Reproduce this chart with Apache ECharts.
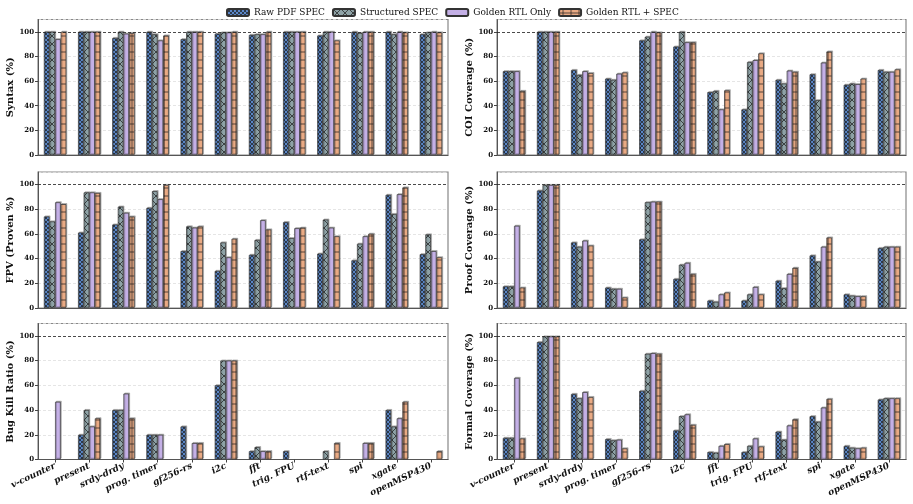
<!DOCTYPE html>
<html>
<head>
<meta charset="utf-8">
<script src="https://cdn.jsdelivr.net/npm/echarts@6/dist/echarts.min.js"></script>
<style>
  html, body { margin: 0; padding: 0; background: #fff; }
  #chart { width: 913px; height: 504px; }
</style>
</head>
<body>
<div id="chart"></div>
<script>
// benchmark designs on the x axis
const categories = ['v-counter', 'present', 'srdy-drdy', 'prog. timer', 'gf256-rs', 'i2c',
  'fft', 'trig. FPU', 'rtf-text', 'spi', 'xgate', 'openMSP430']
const seriesNames = ['Raw PDF SPEC', 'Structured SPEC', 'Golden RTL Only', 'Golden RTL + SPEC']

// each metric: [raw pdf, structured, golden rtl, golden rtl + spec]
const syntax = [
  [100, 100, 95, 100, 94, 98.5, 97.5, 100, 97, 100, 100, 98],
  [100, 100, 100, 98, 100, 99.5, 98, 100, 100, 99, 98, 99.5],
  [94, 100, 98.5, 93, 100, 99.5, 98, 100, 100, 100, 100, 100],
  [100, 100, 99, 97, 100, 100, 100, 100, 93, 100, 99.5, 99.5]
]
const coi = [
  [68, 100, 69, 62, 93, 88, 51, 37, 61, 65.5, 57, 69],
  [68, 100, 65, 61, 96, 100, 52, 75.5, 58, 44.5, 58, 67.5],
  [68, 100, 68, 66, 100, 91.5, 37, 77, 68.5, 75, 57.5, 67.5],
  [52, 100, 66.5, 67, 99.5, 91.5, 52.5, 82.5, 67.5, 84, 62, 69.5]
]
const fpv = [
  [74, 61, 67.5, 81, 46, 30, 43, 69.5, 44, 38.5, 91.5, 43.5],
  [70, 93.5, 82, 94.5, 66, 53, 55, 56.5, 71.5, 52, 76, 59.5],
  [85.5, 93.5, 77, 88, 65, 41, 71, 64.5, 65, 58, 92, 46],
  [84, 93, 74, 99.5, 66, 56, 63.5, 65, 58, 60, 97.5, 41]
]
const proof = [
  [17.5, 95, 53, 16.5, 55.5, 23.5, 6, 6, 22, 42.5, 11, 48.5],
  [17.5, 99.5, 49.5, 15.5, 85.5, 35, 5, 11, 16, 37.5, 10, 49.5],
  [66.5, 99.5, 54.5, 15.5, 86, 36.5, 11, 17, 27.5, 49.5, 9.5, 49.5],
  [16.5, 99.5, 50.5, 8.5, 86, 27.5, 12.5, 11, 32.5, 57, 9.5, 49.5]
]
const bugKill = [
  [0, 20, 40, 20, 26.7, 60, 6.7, 6.7, 0, 0, 40, 0],
  [0, 40, 40, 20, 0, 80, 10, 0, 6.7, 0, 26.7, 0],
  [46.7, 26.7, 53.3, 20, 13.3, 80, 6.7, 0, 0, 13.3, 33.3, 0],
  [0, 33.3, 33.3, 0, 13.3, 80, 6.7, 0, 13.3, 13.3, 46.7, 6.7]
]
const formal = [
  [17.5, 95, 53, 16.5, 55.5, 23.5, 6, 6, 22.5, 35, 11, 48.5],
  [17.5, 99.5, 49.5, 15.5, 85.5, 35, 5.5, 11, 16, 30.5, 9.5, 49.5],
  [66, 99.5, 54.5, 16, 86, 36.5, 11, 17, 27.5, 42, 9, 49.5],
  [17, 99.5, 50.5, 9, 85.5, 28, 12.5, 10.5, 32.5, 49, 9.5, 49.5]
]

const panels = [
  { name: 'Syntax (%)', data: syntax },
  { name: 'COI Coverage (%)', data: coi },
  { name: 'FPV (Proven %)', data: fpv },
  { name: 'Proof Coverage (%)', data: proof },
  { name: 'Bug Kill Ratio (%)', data: bugKill },
  { name: 'Formal Coverage (%)', data: formal }
]

// hatch fills like matplotlib ('xx', 'x', none, '+')
function hatch(bg, kind, size) {
  const c = document.createElement('canvas')
  c.width = size
  c.height = size
  const g = c.getContext('2d')
  g.fillStyle = bg
  g.fillRect(0, 0, size, size)
  g.strokeStyle = '#1a1a1a'
  g.lineWidth = 0.7
  g.beginPath()
  if (kind === 'x') {
    for (let k = -1; k <= 1; k++) {
      g.moveTo(k * size, 0); g.lineTo(k * size + size, size)
      g.moveTo(k * size, size); g.lineTo(k * size + size, 0)
    }
  } else if (kind === '+') {
    g.moveTo(0, size / 2); g.lineTo(size, size / 2)
    g.moveTo(size / 2, 0); g.lineTo(size / 2, size)
  }
  g.stroke()
  return { image: c, repeat: 'repeat' }
}

const fills = [
  hatch('#5b87c8', 'x', 4),
  hatch('#8ea2a6', 'x', 8),
  '#c4b0e6',
  hatch('#e9aa84', '+', 8)
]

const serif = 'DejaVu Serif'
const cols = [{ left: 38, right: 465 }, { left: 497, right: 7 }]
const rows = [{ top: 19.5, height: 135.5 }, { top: 172, height: 136 }, { top: 323.5, height: 136 }]

const grid = []
const xAxis = []
const yAxis = []
const series = []

panels.forEach((p, i) => {
  const col = cols[i % 2]
  const row = rows[Math.floor(i / 2)]
  const bottomRow = i >= 4
  grid.push({
    left: col.left, right: col.right, top: row.top, height: row.height,
    show: true, borderColor: '#888', borderWidth: 1.2, backgroundColor: 'transparent'
  })
  xAxis.push({
    type: 'category', gridIndex: i, data: categories,
    axisLine: { lineStyle: { color: '#555', width: 1 } },
    axisTick: { show: bottomRow, alignWithLabel: true, length: 3, lineStyle: { color: '#444' } },
    axisLabel: {
      show: bottomRow, rotate: 25, margin: 6, interval: 0,
      fontFamily: serif, fontWeight: 'bold', fontStyle: 'italic', fontSize: 9, color: '#111'
    }
  })
  yAxis.push({
    type: 'value', gridIndex: i, min: 0, max: 110, interval: 20,
    name: p.name, nameLocation: 'middle', nameGap: 20,
    nameTextStyle: { fontFamily: serif, fontWeight: 'bold', fontSize: 10, color: '#111' },
    axisLine: { show: true, lineStyle: { color: '#555', width: 1 } },
    axisTick: { show: true, length: 3, lineStyle: { color: '#444' } },
    axisLabel: { showMaxLabel: false, margin: 4, fontFamily: serif, fontWeight: 'bold', fontSize: 7, color: '#111' },
    splitLine: { show: true, lineStyle: { color: '#dedede', type: [3, 2], width: 0.8 } }
  })
  p.data.forEach((vals, s) => {
    const item = {
      type: 'bar', name: seriesNames[s], xAxisIndex: i, yAxisIndex: i,
      // zero-height bars stay invisible, as in the original
      data: vals.map(v => v === 0
        ? { value: 0, itemStyle: { borderWidth: 0, shadowColor: 'transparent' } }
        : v),
      barWidth: 5.6, barGap: '0%',
      itemStyle: {
        color: fills[s], borderColor: '#333', borderWidth: 0.7,
        shadowColor: 'rgba(0,0,0,0.28)', shadowOffsetX: 1, shadowOffsetY: -1
      },
      emphasis: { disabled: true },
      animation: false
    }
    if (s === 0) {
      item.markLine = {
        silent: true, symbol: 'none', label: { show: false },
        lineStyle: { color: '#222', type: [3, 2], width: 0.8 },
        data: [{ yAxis: 100 }]
      }
    }
    series.push(item)
  })
})

const chart = echarts.init(document.getElementById('chart'), null, { renderer: 'canvas' })
chart.setOption({
  backgroundColor: '#fff',
  animation: false,
  legend: {
    data: seriesNames, top: 3, left: 221,
    itemWidth: 22, itemHeight: 7, itemGap: 7,
    textStyle: { fontFamily: serif, fontSize: 9, color: '#111' }
  },
  grid: grid,
  xAxis: xAxis,
  yAxis: yAxis,
  series: series
})
</script>
</body>
</html>
